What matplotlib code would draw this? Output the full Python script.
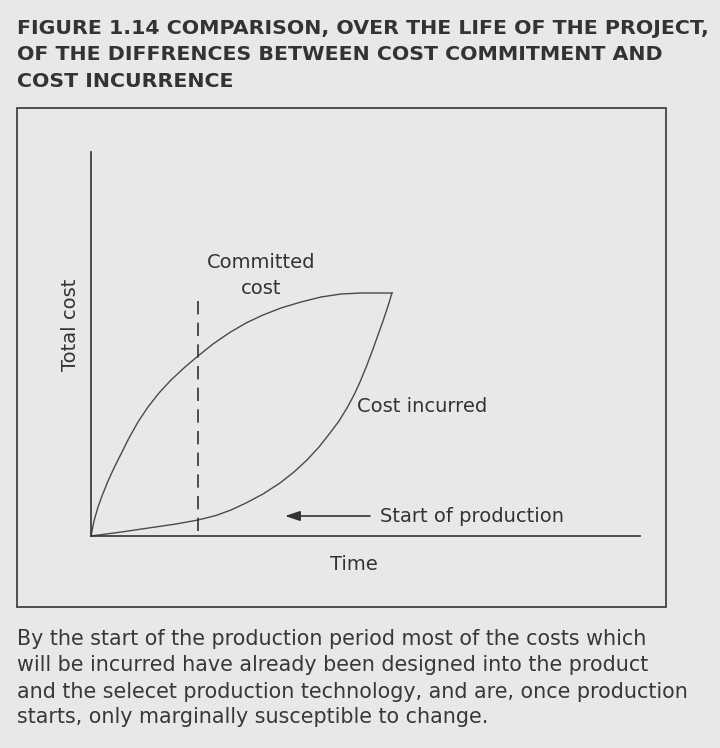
import matplotlib
matplotlib.use("Agg")
import matplotlib.pyplot as plt
from matplotlib.patches import Rectangle

# ---- data (x = time, y = total cost, arbitrary units) ----
committed_x = [0, 3, 7, 11, 17, 23, 30, 38, 47, 57, 68, 80, 94, 107, 122, 138,
               155, 172, 190, 210, 230, 250, 270, 301]
committed_y = [0, 15, 29, 40, 55, 68, 82, 98, 114, 129, 143, 156, 169, 180, 192, 203,
               213, 221, 228, 234, 239, 242, 243, 243]
incurred_x = [0, 27, 61, 85, 107, 125, 140, 155, 172, 189, 203, 216, 228, 239, 248,
              256, 263, 269, 276, 282, 287, 292, 297, 301]
incurred_y = [0, 3.5, 8.5, 12, 16, 20.5, 26, 33, 42, 53, 64, 76, 89, 103, 115,
              128, 141, 154, 171, 187, 201, 215, 230, 243]
production_start_x = 107
production_line_y = [5, 238]
x_max, y_max = 549, 384

title_lines = ["FIGURE 1.14 COMPARISON, OVER THE LIFE OF THE PROJECT,",
               "OF THE DIFFRENCES BETWEEN COST COMMITMENT AND",
               "COST INCURRENCE"]
caption_lines = ["By the start of the production period most of the costs which",
                 "will be incurred have already been designed into the product",
                 "and the selecet production technology, and are, once production",
                 "starts, only marginally susceptible to change."]

W, H = 720, 748
BG = "#e8e8e8"
INK = "#333333"

fig = plt.figure(figsize=(W / 100, H / 100), dpi=100, facecolor=BG)

def fx(px):
    return px / W

def fy(py):
    return 1 - py / H

renderer = fig.canvas.get_renderer()

def fit_size(text, target_px, weight, base=13.0):
    t = fig.text(0, 0, text, fontsize=base, fontweight=weight, family="DejaVu Sans")
    w = t.get_window_extent(renderer=renderer).width
    t.remove()
    return base * target_px / w

# title
tsize = fit_size(title_lines[0], 686, "bold")
for line, base in zip(title_lines, [34, 60, 87]):
    fig.text(fx(17), fy(base), line, fontsize=tsize, fontweight="bold",
             color=INK, va="baseline", ha="left", family="DejaVu Sans")

# caption
csize = fit_size(caption_lines[2], 671, "normal")
for line, base in zip(caption_lines, [645, 671, 698, 723]):
    fig.text(fx(17), fy(base), line, fontsize=csize, color="#383838",
             va="baseline", ha="left", family="DejaVu Sans")

# frame box
fig.patches.append(Rectangle((fx(17), fy(607)), fx(666 - 17), (607 - 108) / H,
                             transform=fig.transFigure, fill=False,
                             edgecolor="#444444", linewidth=1.3))

# axes
ax = fig.add_axes([fx(91), fy(536), fx(640 - 91), (536 - 152) / H])
ax.set_facecolor("none")
ax.set_xlim(0, x_max)
ax.set_ylim(0, y_max)
for s in ["top", "right"]:
    ax.spines[s].set_visible(False)
for s in ["left", "bottom"]:
    ax.spines[s].set_color(INK)
    ax.spines[s].set_linewidth(1.2)
ax.set_xticks([])
ax.set_yticks([])

ax.plot(committed_x, committed_y, color="#4a4a4a", lw=1.0, clip_on=False,
        solid_joinstyle="round")
ax.plot(incurred_x, incurred_y, color="#4a4a4a", lw=1.0, clip_on=False,
        solid_joinstyle="round")
ax.plot([production_start_x, production_start_x], production_line_y,
        color=INK, lw=1.2, dashes=(8, 5))

ax.annotate("", xy=(194, 20), xytext=(279, 20),
            arrowprops=dict(arrowstyle="-|>,head_length=0.9,head_width=0.3",
                            color=INK, lw=1.2, shrinkA=0, shrinkB=0))

lab = dict(fontsize=14, color=INK, family="DejaVu Sans")
ax.text(289, 20, "Start of production", ha="left", va="center", **lab)
ax.text(266, 129, "Cost incurred", ha="left", va="center", **lab)
ax.text(170, 274, "Committed", ha="center", va="center", **lab)
ax.text(170, 248, "cost", ha="center", va="center", **lab)
ax.text(263, -29, "Time", ha="center", va="center", clip_on=False, **lab)
ax.text(-21, 211, "Total cost", ha="center", va="center", rotation=90,
        clip_on=False, **lab)

fig.savefig("out.png", dpi=100, facecolor=BG)
